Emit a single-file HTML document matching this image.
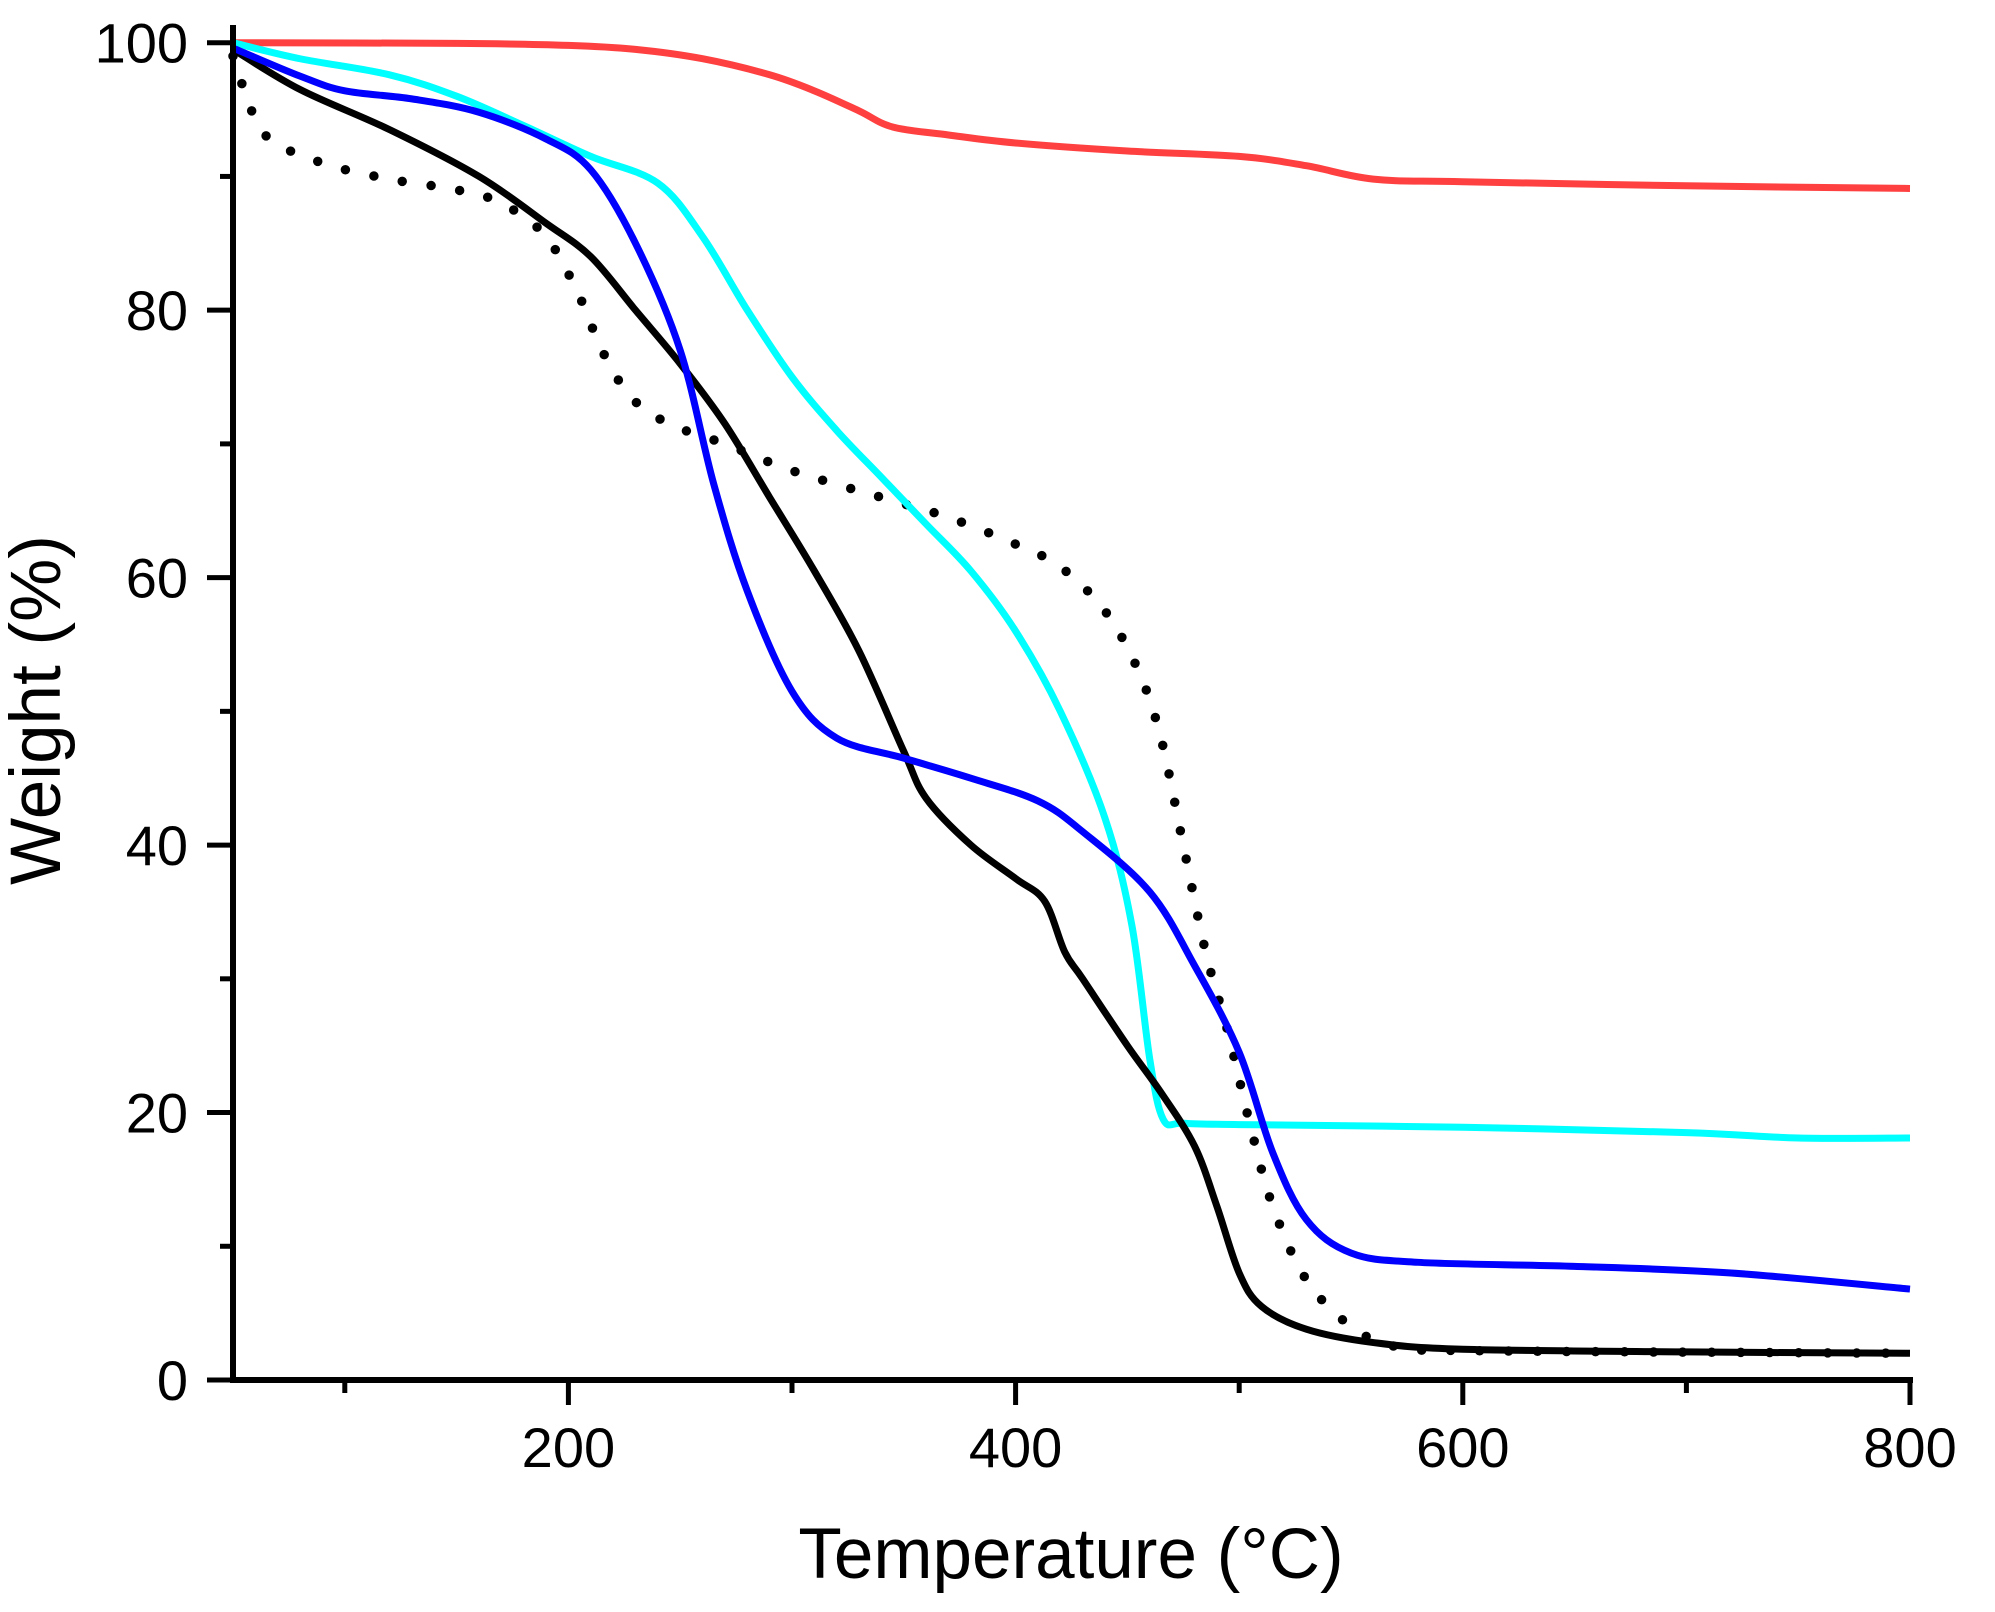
<!DOCTYPE html>
<html><head><meta charset="utf-8"><style>
html,body{margin:0;padding:0;background:#fff;}
svg{display:block;font-family:"Liberation Sans",sans-serif;}
</style></head><body>
<svg id="s" width="1995" height="1612" viewBox="0 0 1995 1612" xmlns="http://www.w3.org/2000/svg">
<g id="curves" fill="none" stroke-linejoin="round"></g>
<g stroke="#000" stroke-width="6" fill="none">
<line x1="233" y1="25" x2="233" y2="1383"/>
<line x1="230" y1="1380" x2="1913" y2="1380"/>
</g>
<g id="ticks" stroke="#000" stroke-width="5"></g>
<g id="labels" font-size="56" fill="#000"></g>
<text x="1071" y="1578" font-size="71" text-anchor="middle">Temperature (°C)</text>
<text transform="translate(60,710) rotate(-90)" font-size="71" text-anchor="middle">Weight (%)</text>
</svg>
<script>
var X=function(t){return 233+(t-50)*2.236;}, Y=function(w){return 1380-w*13.373;};
var NS="http://www.w3.org/2000/svg";
function el(p,tag,a){var e=document.createElementNS(NS,tag);for(var k in a)e.setAttribute(k,a[k]);p.appendChild(e);return e;}
var tk=document.getElementById('ticks'),lb=document.getElementById('labels');
for(var w=0;w<=100;w+=10){var maj=w%20==0;el(tk,'line',{x1:maj?207:220,x2:233,y1:Y(w),y2:Y(w)});
 if(maj){var t=el(lb,'text',{x:188,y:Y(w)+20,'text-anchor':'end'});t.textContent=w;}}
for(var T=100;T<=800;T+=100){var maj=T%200==0;el(tk,'line',{x1:X(T),x2:X(T),y1:1380,y2:maj?1405:1393});
 if(maj){var t=el(lb,'text',{x:X(T),y:1467,'text-anchor':'middle'});t.textContent=T;}}
function path(d){var p=d.map(function(a){return [X(a[0]),Y(a[1])];});var s="M"+p[0][0]+","+p[0][1];
 for(var i=0;i<p.length-1;i++){var p0=p[Math.max(i-1,0)],p1=p[i],p2=p[i+1],p3=p[Math.min(i+2,p.length-1)];
 var c1=[p1[0]+(p2[0]-p0[0])/6,p1[1]+(p2[1]-p0[1])/6],c2=[p2[0]-(p3[0]-p1[0])/6,p2[1]-(p3[1]-p1[1])/6];
 s+="C"+c1+" "+c2+" "+p2;}return s;}
var C=document.getElementById('curves');
var red=[[50,100],[150,99.95],[200,99.8],[230,99.5],[260,98.8],[290,97.6],[310,96.4],[330,94.9],[345,93.7],[370,93.1],[400,92.5],[450,91.9],[500,91.5],[530,90.8],[560,89.8],[600,89.6],[700,89.3],[800,89.1]];
var cyan=[[50,100],[80,98.8],[120,97.6],[150,96],[180,93.8],[210,91.5],[240,89.5],[260,85.5],[280,80],[300,75],[320,71],[340,67.5],[360,64],[380,60.5],[400,56],[420,50],[440,42],[452,34],[460,24],[466,19.5],[475,19.2],[500,19.1],[600,18.9],[700,18.5],[750,18.1],[800,18.1]];
var blue=[[50,99.6],[80,97.5],[100,96.4],[130,95.8],[160,94.8],[190,92.8],[210,90.5],[230,85],[250,77],[265,67],[280,59],[300,51.5],[320,48],[350,46.5],[380,45],[410,43.3],[430,41],[460,36.5],[480,31],[500,24.5],[515,17],[530,12],[550,9.5],[580,8.8],[650,8.5],[720,8],[800,6.8]];
var blk=[[50,99.5],[80,96.5],[120,93.5],[160,90],[190,86.5],[210,84],[230,80],[250,76],[270,71.5],[290,66],[310,60.5],[330,54.5],[350,47],[360,43.5],[380,40],[400,37.5],[413,35.8],[422,32],[430,30],[450,25],[465,21.5],[480,17.5],[490,13],[500,8],[510,5.5],[530,3.8],[560,2.8],[600,2.3],[700,2.1],[800,2]];
var dot=[[50,99],[55,96.5],[65,93],[90,91],[120,89.8],[150,89],[170,88],[190,85.5],[205,81],[215,77],[228,73.5],[245,71.5],[270,70],[300,68],[340,66],[370,64.5],[400,62.5],[420,60.8],[440,57.5],[455,53],[465,48],[475,40],[485,32],[495,26],[505,19],[515,13],[530,7.5],[550,4],[570,2.5],[600,2.2],[800,2]];
el(C,'path',{d:path(red),stroke:'#ff4040','stroke-width':7});
el(C,'path',{d:path(dot),stroke:'#000','stroke-width':9.5,'stroke-dasharray':'0 29','stroke-linecap':'round'});
el(C,'path',{d:path(cyan),stroke:'#00ffff','stroke-width':7});
el(C,'path',{d:path(blk),stroke:'#000','stroke-width':7});
el(C,'path',{d:path(blue),stroke:'#0000ff','stroke-width':7});
</script>
</body></html>
